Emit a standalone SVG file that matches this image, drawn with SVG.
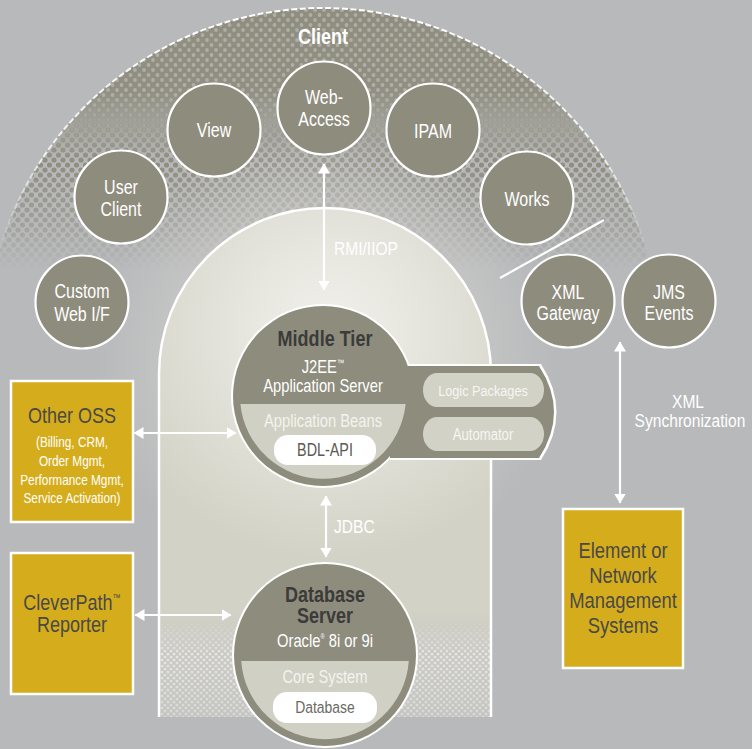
<svg xmlns="http://www.w3.org/2000/svg" width="752" height="749" viewBox="0 0 752 749">
<defs>
<style>
.t{font-family:'Liberation Sans',Arial,sans-serif;text-anchor:middle}
.s{text-anchor:start}
.w{fill:#ffffff}
.cl{font-size:19.5px;fill:#ffffff}
.dk{fill:#4a4946}
.bold{font-weight:bold;fill:#3b3b39}
.node{fill:#8e8c7d;stroke:#ffffff;stroke-width:2.2}
.box{fill:#d5ad1c;stroke:#ffffff;stroke-width:2.5}
.conn{stroke:#ffffff;stroke-width:2.2;fill:none}
</style>
<marker id="ah" viewBox="0 0 10 12" refX="9.5" refY="6" markerWidth="10" markerHeight="12" markerUnits="userSpaceOnUse" orient="auto-start-reverse">
<path d="M0,0 L10,6 L0,12 z" fill="#ffffff"/>
</marker>
<pattern id="bigdots" width="9" height="10" patternUnits="userSpaceOnUse">
<rect width="9" height="10" fill="#8f8d7e"/>
<circle cx="0" cy="0" r="1.9" fill="#aeada6"/><circle cx="9" cy="0" r="1.9" fill="#aeada6"/><circle cx="0" cy="10" r="1.9" fill="#aeada6"/><circle cx="9" cy="10" r="1.9" fill="#aeada6"/>
<circle cx="4.5" cy="5" r="1.9" fill="#aeada6"/>
</pattern>
<pattern id="smalldots" width="9" height="10" patternUnits="userSpaceOnUse">
<circle cx="0" cy="0" r="2.6" fill="#8f8d7e"/><circle cx="9" cy="0" r="2.6" fill="#8f8d7e"/><circle cx="0" cy="10" r="2.6" fill="#8f8d7e"/><circle cx="9" cy="10" r="2.6" fill="#8f8d7e"/>
<circle cx="4.5" cy="5" r="2.6" fill="#8f8d7e"/>
</pattern>
<pattern id="lightdots" width="6" height="6" patternUnits="userSpaceOnUse">
<circle cx="0" cy="0" r="1.6" fill="#e6e5df"/><circle cx="6" cy="0" r="1.6" fill="#e6e5df"/><circle cx="0" cy="6" r="1.6" fill="#e6e5df"/><circle cx="6" cy="6" r="1.6" fill="#e6e5df"/>
<circle cx="3" cy="3" r="1.6" fill="#e6e5df"/>
</pattern>
<linearGradient id="gTop" gradientUnits="userSpaceOnUse" x1="0" y1="0" x2="0" y2="260">
<stop offset="0" stop-color="#fff" stop-opacity="1"/>
<stop offset="0.35" stop-color="#fff" stop-opacity="0.95"/>
<stop offset="0.62" stop-color="#fff" stop-opacity="0"/>
</linearGradient>
<linearGradient id="gMid" gradientUnits="userSpaceOnUse" x1="0" y1="0" x2="0" y2="270">
<stop offset="0.35" stop-color="#fff" stop-opacity="0"/>
<stop offset="0.6" stop-color="#fff" stop-opacity="1"/>
<stop offset="0.82" stop-color="#fff" stop-opacity="0.55"/>
<stop offset="1" stop-color="#fff" stop-opacity="0"/>
</linearGradient>
<linearGradient id="gEdge" gradientUnits="userSpaceOnUse" x1="0" y1="0" x2="0" y2="255">
<stop offset="0" stop-color="#fff" stop-opacity="1"/>
<stop offset="0.6" stop-color="#fff" stop-opacity="0.8"/>
<stop offset="1" stop-color="#fff" stop-opacity="0"/>
</linearGradient>
<mask id="mTop" maskUnits="userSpaceOnUse" x="0" y="0" width="752" height="749"><rect width="752" height="300" fill="url(#gTop)"/></mask>
<mask id="mMid" maskUnits="userSpaceOnUse" x="0" y="0" width="752" height="749"><rect width="752" height="300" fill="url(#gMid)"/></mask>
<mask id="mEdge" maskUnits="userSpaceOnUse" x="0" y="0" width="752" height="749"><rect width="752" height="300" fill="url(#gEdge)"/></mask>
<radialGradient id="halo" gradientUnits="userSpaceOnUse" cx="325" cy="360" r="230">
<stop offset="0.65" stop-color="#cfcfcc" stop-opacity="0.55"/>
<stop offset="1" stop-color="#cfcfcc" stop-opacity="0"/>
</radialGradient>
<radialGradient id="archFill" gradientUnits="userSpaceOnUse" cx="330" cy="330" r="230">
<stop offset="0" stop-color="#f1f0eb"/>
<stop offset="0.5" stop-color="#e3e2da"/>
<stop offset="1" stop-color="#d3d2c6"/>
</radialGradient>
<linearGradient id="archBot" gradientUnits="userSpaceOnUse" x1="0" y1="610" x2="0" y2="717">
<stop offset="0" stop-color="#c6c6c3" stop-opacity="0"/>
<stop offset="0.4" stop-color="#c6c6c3" stop-opacity="0.9"/>
<stop offset="1" stop-color="#c2c2c0" stop-opacity="1"/>
</linearGradient>
<linearGradient id="gBotDots" gradientUnits="userSpaceOnUse" x1="0" y1="620" x2="0" y2="717">
<stop offset="0" stop-color="#fff" stop-opacity="0"/>
<stop offset="0.35" stop-color="#fff" stop-opacity="1"/>
<stop offset="1" stop-color="#fff" stop-opacity="0.6"/>
</linearGradient>
<mask id="mBot" maskUnits="userSpaceOnUse" x="0" y="600" width="752" height="149"><rect y="600" width="752" height="149" fill="url(#gBotDots)"/></mask>
<clipPath id="archClip"><path d="M159,717 L159,374 A166,166 0 0 1 491,374 L491,717 Z"/></clipPath>
<clipPath id="mtSeg"><path d="M240.4,404 L405.6,404 A83,83 0 0 1 240.4,404 Z"/></clipPath>
<clipPath id="dbSeg"><path d="M241.2,661 L408.8,661 A84,84 0 0 1 241.2,661 Z"/></clipPath>
</defs>

<rect width="752" height="749" fill="#b8b9bb"/>

<g id="client-dome">
<circle cx="323" cy="345" r="337" fill="url(#bigdots)" mask="url(#mTop)"/>
<circle cx="323" cy="345" r="337" fill="url(#smalldots)" mask="url(#mMid)"/>
<circle cx="323" cy="345" r="337" fill="none" stroke="#ffffff" stroke-width="2" stroke-dasharray="6 2.5" mask="url(#mEdge)"/>
<circle cx="325" cy="360" r="230" fill="url(#halo)"/>
<text class="t" transform="translate(323,44) scale(0.82,1)" font-size="22" font-weight="bold" fill="#ffffff">Client</text>
</g>

<g id="arch">
<path d="M159,717 L159,374 A166,166 0 0 1 491,374 L491,717 Z" fill="url(#archFill)"/>
<g clip-path="url(#archClip)">
<rect x="150" y="600" width="350" height="120" fill="url(#archBot)"/>
<rect x="150" y="600" width="350" height="120" fill="url(#lightdots)" mask="url(#mBot)"/>
</g>
<path d="M159,717 L159,374 A166,166 0 0 1 491,374 L491,717" fill="none" stroke="#ffffff" stroke-width="2.5"/>
</g>

<g id="custom-web-if">
<circle class="node" cx="82" cy="302" r="46.5"/>
<text class="t cl" transform="translate(82,298) scale(0.82,1)">Custom</text>
<text class="t cl" transform="translate(82,321) scale(0.82,1)">Web I/F</text>
</g>
<g id="user-client">
<circle class="node" cx="121" cy="197" r="46.5"/>
<text class="t cl" transform="translate(121,194) scale(0.82,1)">User</text>
<text class="t cl" transform="translate(121,216) scale(0.82,1)">Client</text>
</g>
<g id="view">
<circle class="node" cx="214" cy="130" r="46.5"/>
<text class="t cl" transform="translate(214,137) scale(0.82,1)">View</text>
</g>
<g id="web-access">
<circle class="node" cx="324" cy="108" r="46.5"/>
<text class="t cl" transform="translate(324,104) scale(0.82,1)">Web-</text>
<text class="t cl" transform="translate(324,126) scale(0.82,1)">Access</text>
</g>
<g id="ipam">
<circle class="node" cx="433" cy="130" r="46.5"/>
<text class="t cl" transform="translate(433,138) scale(0.82,1)">IPAM</text>
</g>
<g id="works">
<circle class="node" cx="527" cy="198" r="46.5"/>
<text class="t cl" transform="translate(527,206) scale(0.82,1)">Works</text>
</g>
<g id="xml-gateway">
<circle class="node" cx="568" cy="301" r="46.5"/>
<text class="t cl" transform="translate(568,299) scale(0.82,1)">XML</text>
<text class="t cl" transform="translate(568,320) scale(0.82,1)">Gateway</text>
</g>
<g id="jms-events">
<circle class="node" cx="669" cy="301" r="46.5"/>
<text class="t cl" transform="translate(669,299) scale(0.82,1)">JMS</text>
<text class="t cl" transform="translate(669,320) scale(0.82,1)">Events</text>
</g>

<g id="middle-tier">
<path d="M390,364 L541,364 Q572,412 541,460 L390,460 Z" fill="#ffffff"/>
<circle cx="323" cy="396" r="92" fill="#ffffff"/>
<path d="M390,366 L539,366 Q569,412 539,458 L390,458 Z" fill="#8e8c7d"/>
<circle cx="323" cy="396" r="90" fill="#8e8c7d"/>
<path d="M240.4,404 L405.6,404 A83,83 0 0 1 240.4,404 Z" fill="#d1d0c5"/>
<rect x="274" y="435" width="102" height="30" rx="14" fill="#ffffff" clip-path="url(#mtSeg)"/>
<text class="t bold" transform="translate(325,346) scale(0.82,1)" font-size="22">Middle Tier</text>
<text class="t w" transform="translate(323,373) scale(0.82,1)" font-size="18">J2EE<tspan font-size="9" dy="-7">™</tspan></text>
<text class="t w" transform="translate(323,392) scale(0.82,1)" font-size="18">Application Server</text>
<text class="t" transform="translate(323,427) scale(0.82,1)" font-size="18" fill="#f4f3ee">Application Beans</text>
<text class="t" transform="translate(325,456) scale(0.82,1)" font-size="17.5" fill="#5b5a54">BDL-API</text>
<g id="logic-packages">
<path d="M437,373 L530,373 A14,17 0 0 1 530,407 L437,407 A14,17 0 0 1 437,373 Z" fill="#d3d2c7"/>
<text class="t" transform="translate(483,396) scale(0.82,1)" font-size="15.5" fill="#f7f6f1">Logic Packages</text>
</g>
<g id="automator">
<path d="M437,417 L530,417 A14,17 0 0 1 530,451 L437,451 A14,17 0 0 1 437,417 Z" fill="#d3d2c7"/>
<text class="t" transform="translate(483,440) scale(0.82,1)" font-size="16" fill="#f7f6f1">Automator</text>
</g>
</g>

<g id="database-server">
<circle cx="325" cy="655" r="93" fill="#ffffff"/>
<circle cx="325" cy="655" r="91" fill="#8e8c7d"/>
<path d="M241.2,661 L408.8,661 A84,84 0 0 1 241.2,661 Z" fill="#d1d0c5"/>
<rect x="273" y="692" width="104" height="31" rx="14" fill="#ffffff" clip-path="url(#dbSeg)"/>
<text class="t bold" transform="translate(325,602) scale(0.82,1)" font-size="22">Database</text>
<text class="t bold" transform="translate(325,623) scale(0.82,1)" font-size="22">Server</text>
<text class="t w" transform="translate(325,647) scale(0.82,1)" font-size="18">Oracle<tspan font-size="7" dy="-8">®</tspan><tspan dy="8"> 8i or 9i</tspan></text>
<text class="t" transform="translate(325,683) scale(0.82,1)" font-size="18" fill="#f4f3ee">Core System</text>
<text class="t" transform="translate(325,713) scale(0.82,1)" font-size="17" fill="#6a6962">Database</text>
</g>

<g id="other-oss">
<rect class="box" x="11" y="381" width="122" height="141"/>
<text class="t dk" transform="translate(72,423) scale(0.82,1)" font-size="22">Other OSS</text>
<text class="t w" transform="translate(72,447) scale(0.82,1)" font-size="14.4">(Billing, CRM,</text>
<text class="t w" transform="translate(72,466) scale(0.82,1)" font-size="14.4">Order Mgmt,</text>
<text class="t w" transform="translate(72,485) scale(0.82,1)" font-size="14.4">Performance Mgmt,</text>
<text class="t w" transform="translate(72,503) scale(0.82,1)" font-size="14.4">Service Activation)</text>
</g>

<g id="cleverpath-reporter">
<rect class="box" x="11" y="553" width="122" height="141"/>
<text class="t dk" transform="translate(72,610) scale(0.82,1)" font-size="22">CleverPath<tspan font-size="10" dy="-9">™</tspan></text>
<text class="t dk" transform="translate(72,632) scale(0.82,1)" font-size="22">Reporter</text>
</g>

<g id="element-nms">
<rect class="box" x="563" y="509" width="120" height="159"/>
<text class="t dk" transform="translate(623,558) scale(0.82,1)" font-size="22.5">Element or</text>
<text class="t dk" transform="translate(623,583) scale(0.82,1)" font-size="22.5">Network</text>
<text class="t dk" transform="translate(623,608) scale(0.82,1)" font-size="22.5">Management</text>
<text class="t dk" transform="translate(623,633) scale(0.82,1)" font-size="22.5">Systems</text>
</g>

<g id="connectors">
<path class="conn" d="M324,164 L324,290" marker-start="url(#ah)" marker-end="url(#ah)"/>
<path class="conn" d="M326,496 L326,557" marker-start="url(#ah)" marker-end="url(#ah)"/>
<path class="conn" d="M134,433 L236,433" marker-start="url(#ah)" marker-end="url(#ah)"/>
<path class="conn" d="M135,615 L231,615" marker-start="url(#ah)" marker-end="url(#ah)"/>
<path class="conn" d="M620,342 L620,503" marker-start="url(#ah)" marker-end="url(#ah)"/>
<path class="conn" d="M500,278 L604,220" stroke-width="2.5"/>
<text class="t s w" transform="translate(334,255) scale(0.82,1)" font-size="19">RMI/IIOP</text>
<text class="t s w" transform="translate(334,533) scale(0.82,1)" font-size="19">JDBC</text>
<text class="t w" transform="translate(688,408) scale(0.82,1)" font-size="19">XML</text>
<text class="t w" transform="translate(690,427) scale(0.82,1)" font-size="19">Synchronization</text>
</g>
</svg>
